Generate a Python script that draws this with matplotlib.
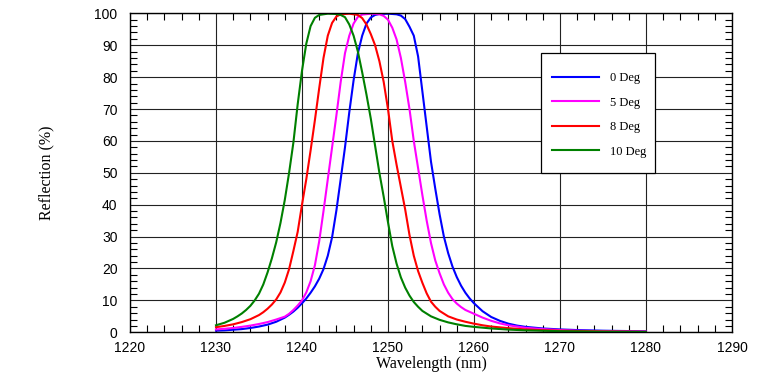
import matplotlib
matplotlib.use('Agg')
import matplotlib.pyplot as plt
from matplotlib.patches import Rectangle
from matplotlib.ticker import MultipleLocator

# ── Data ──────────────────────────────────────────────────────────────────────
wl_0deg = [1230, 1231, 1232, 1233, 1234, 1235, 1236, 1237, 1238, 1238.5, 1239, 1239.5,
           1240, 1240.5, 1241, 1241.5, 1242, 1242.5, 1243, 1243.5, 1244, 1244.5, 1245,
           1245.5, 1246, 1246.5, 1247, 1247.5, 1248, 1248.5, 1249, 1250, 1251, 1251.5,
           1252, 1252.5, 1253, 1253.5, 1254, 1254.5, 1255, 1255.5, 1256, 1256.5, 1257,
           1257.5, 1258, 1258.5, 1259, 1259.5, 1260, 1261, 1262, 1263, 1264, 1265, 1266,
           1268, 1270, 1272, 1275, 1280]
r_0deg = [0.5, 0.6, 0.8, 1.0, 1.35, 1.8, 2.4, 3.3, 4.6, 5.5, 6.5, 7.7,
          9.1, 10.6, 12.4, 14.4, 16.8, 19.8, 24.0, 29.8, 38.2, 48, 58,
          69, 79, 87.5, 93, 96.8, 98.7, 99.5, 99.8, 99.9, 99.7, 99.3,
          98.2, 95.8, 93.0, 86.5, 75.5, 64.5, 53.5, 45, 37, 30, 24.8,
          20.6, 17.3, 14.6, 12.4, 10.6, 9.1, 6.6, 4.8, 3.6, 2.7, 2.1, 1.7,
          1.2, 0.9, 0.7, 0.5, 0.3]

wl_5deg = [1230, 1231, 1232, 1233, 1234, 1235, 1236, 1237, 1238, 1238.5, 1239, 1239.5,
           1240, 1240.5, 1241, 1241.5, 1242, 1242.5, 1243, 1243.5, 1244, 1244.5, 1245,
           1245.5, 1246, 1246.5, 1247, 1248, 1249, 1249.5, 1250, 1250.5, 1251, 1251.5,
           1252, 1252.5, 1253, 1253.5, 1254, 1254.5, 1255, 1255.5, 1256, 1256.5, 1257,
           1257.5, 1258, 1258.5, 1259, 1260, 1261, 1262, 1263, 1264, 1265, 1266, 1268,
           1270, 1272, 1275, 1280]
r_5deg = [0.9, 1.1, 1.35, 1.7, 2.1, 2.6, 3.2, 4.0, 4.9, 5.8, 7.0, 8.4,
          10.0, 12.5, 16.0, 21.0, 28.5, 38, 48, 58, 68, 78.5, 87.5,
          93, 96.8, 98.9, 99.6, 99.9, 99.7, 99.2, 98, 95.5, 91.8, 86,
          78.5, 70, 60, 51.5, 43, 35, 28, 22.5, 18.5, 15, 12.4,
          10.4, 9.0, 7.9, 7.0, 5.8, 4.6, 3.6, 2.8, 2.2, 1.8, 1.4, 1.0,
          0.7, 0.5, 0.35, 0.2]

wl_8deg = [1230, 1231, 1232, 1233, 1234, 1235, 1235.5, 1236, 1236.5, 1237, 1237.5, 1238,
           1238.5, 1239, 1239.5, 1240, 1240.5, 1241, 1241.5, 1242, 1242.5, 1243, 1243.5,
           1244, 1244.5, 1245.5, 1246.5, 1247, 1247.5, 1248, 1248.5, 1249, 1249.5, 1250,
           1250.5, 1251, 1251.5, 1252, 1252.5, 1253, 1253.5, 1254, 1254.5, 1255, 1255.5,
           1256, 1257, 1258, 1259, 1260, 1261, 1262, 1264, 1266, 1268, 1270, 1275, 1280]
r_8deg = [1.6, 2.0, 2.5, 3.2, 4.1, 5.4, 6.3, 7.4, 8.7, 10.3, 12.5, 15.6,
          19.8, 25.5, 31.5, 40, 48, 57, 66.5, 76.5, 86, 93, 97,
          99, 99.7, 99.9, 99.5, 98.5, 96.5, 93.5, 90, 85, 78.5, 70,
          60, 52.5, 45.5, 38.5, 30.5, 24, 19.2, 15.5, 12.2, 9.6, 8.0,
          6.7, 5.0, 4.0, 3.3, 2.7, 2.2, 1.8, 1.3, 0.9, 0.65, 0.5, 0.25, 0.15]

wl_10deg = [1230, 1231, 1232, 1232.5, 1233, 1233.5, 1234, 1234.5, 1235, 1235.5, 1236,
            1236.5, 1237, 1237.5, 1238, 1238.5, 1239, 1239.5, 1240, 1240.5, 1241, 1241.5,
            1242, 1243, 1244, 1244.5, 1245, 1245.5, 1246, 1246.5, 1247, 1247.5, 1248,
            1248.5, 1249, 1249.5, 1250, 1250.5, 1251, 1251.5, 1252, 1252.5, 1253, 1253.5,
            1254, 1255, 1256, 1257, 1258, 1259, 1260, 1262, 1264, 1266, 1270, 1275, 1280]
r_10deg = [2.2, 3.0, 4.2, 5.0, 5.9, 7.0, 8.3, 10.0, 12.1, 15.0, 18.8,
           23.2, 28.2, 34.3, 41.5, 50, 59.5, 71.5, 82, 90.5, 96, 98.6,
           99.5, 99.9, 99.8, 99.5, 98.8, 96.5, 93, 88, 81.5, 74.5, 67,
           58.5, 50, 42.5, 34.5, 27, 21.5, 17.2, 14, 11.5, 9.5, 8,
           6.7, 5.0, 3.9, 3.1, 2.5, 2.0, 1.7, 1.2, 0.85, 0.6, 0.35, 0.18, 0.1]

labels = ['0 Deg', '5 Deg', '8 Deg', '10 Deg']
colors = ['#0000ff', '#ff00ff', '#ff0000', '#008000']

# ── Figure ────────────────────────────────────────────────────────────────────
fig = plt.figure(figsize=(7.62, 3.77), dpi=100)
ax = fig.add_axes([0.1706, 0.1186, 0.790, 0.846])

series = [(wl_0deg, r_0deg), (wl_5deg, r_5deg), (wl_8deg, r_8deg), (wl_10deg, r_10deg)]
for (wl, r), lab, c in zip(series, labels, colors):
    ax.plot(wl, r, color=c, lw=1.5, label=lab, solid_joinstyle='round')

ax.set_xlim(1220, 1290)
ax.set_ylim(0, 100)
ax.xaxis.set_major_locator(MultipleLocator(10))
ax.xaxis.set_minor_locator(MultipleLocator(2))
ax.yaxis.set_major_locator(MultipleLocator(10))
ax.yaxis.set_minor_locator(MultipleLocator(2))
ax.grid(which='major', color='#222222', lw=0.8)
ax.set_axisbelow(True)

ax.tick_params(which='both', direction='in', top=True, right=True, colors='black')
ax.tick_params(which='major', length=0, labelsize=10)
ax.tick_params(which='minor', length=5, width=0.8)
ax.tick_params(axis='x', pad=6)
ax.tick_params(axis='y', pad=9)
for lbl in ax.get_xticklabels() + ax.get_yticklabels():
    lbl.set_fontfamily('Liberation Sans')
for sp in ax.spines.values():
    sp.set_linewidth(1.0)
    sp.set_color('black')

ax.set_xlabel('Wavelength (nm)', family='Liberation Serif', fontsize=11.5, labelpad=1)
ax.set_ylabel('Reflection (%)', family='Liberation Serif', fontsize=11.5, labelpad=29)

# legend box drawn as a plain rectangle, entries placed inside it
ax.add_patch(Rectangle((0.683, 0.4995), 0.189, 0.376, transform=ax.transAxes,
                       facecolor='white', edgecolor='black', lw=0.9, zorder=5))
leg = ax.legend(loc='upper left', bbox_to_anchor=(0.701, 0.815), frameon=False,
                borderaxespad=0, borderpad=0, handlelength=3.76, handletextpad=0.88,
                labelspacing=1.0, prop={'family': 'Liberation Serif', 'size': 9})
leg.set_zorder(6)

fig.savefig('out.png', dpi=100)
